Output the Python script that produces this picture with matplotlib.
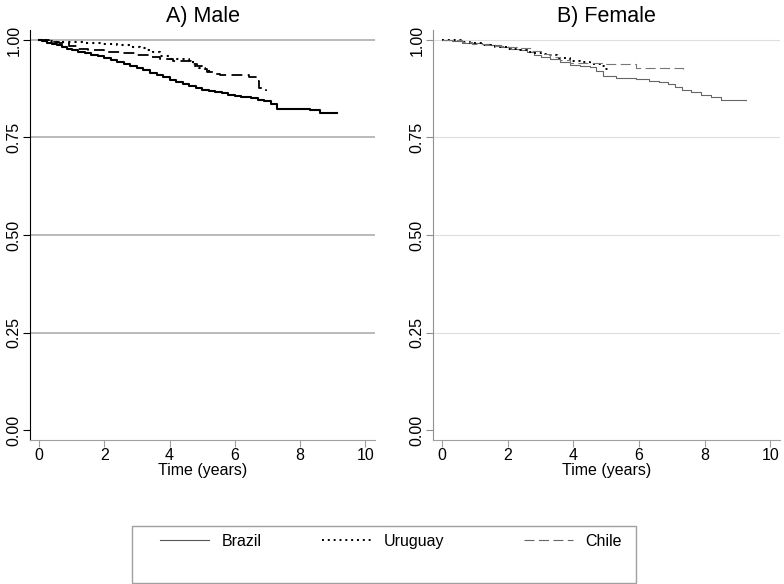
import matplotlib
matplotlib.use('Agg')
import matplotlib.pyplot as plt
from matplotlib.lines import Line2D
from matplotlib.patches import Rectangle

plt.rcParams['font.family'] = ['Liberation Sans', 'DejaVu Sans']

# Kaplan-Meier estimates
male_brazil_t = [0, 0.1, 0.25, 0.4, 0.55, 0.7, 0.85, 1.0, 1.2, 1.4, 1.6, 1.8, 2.0, 2.2, 2.4, 2.6, 2.8, 3.0,
                 3.2, 3.4, 3.6, 3.8, 4.0, 4.2, 4.4, 4.6, 4.8, 5.0, 5.2, 5.4, 5.6, 5.8, 6.0, 6.2, 6.5, 6.7,
                 6.9, 7.1, 7.3, 8.3, 8.6, 9.15]
male_brazil_s = [1.0, 0.997, 0.993, 0.99, 0.986, 0.982, 0.978, 0.974, 0.970, 0.966, 0.962, 0.958, 0.954,
                 0.948, 0.943, 0.938, 0.932, 0.928, 0.922, 0.915, 0.909, 0.904, 0.898, 0.892, 0.887, 0.882,
                 0.877, 0.873, 0.869, 0.866, 0.863, 0.859, 0.857, 0.854, 0.851, 0.847, 0.843, 0.836, 0.824,
                 0.82, 0.814, 0.814]
male_uruguay_t = [0, 0.2, 0.5, 0.9, 1.4, 1.9, 2.4, 2.8, 3.1, 3.3, 3.5, 3.7, 4.0, 4.6, 4.72, 4.9, 5.1, 5.3]
male_uruguay_s = [1.0, 0.998, 0.996, 0.994, 0.992, 0.989, 0.986, 0.983, 0.979, 0.975, 0.968, 0.958, 0.952,
                  0.949, 0.934, 0.928, 0.921, 0.915]
male_chile_t = [0, 0.3, 0.6, 0.9, 1.2, 1.5, 2.0, 2.5, 3.0, 3.4, 3.7, 4.1, 4.65, 4.85, 5.0, 5.15, 5.35, 5.55,
                6.45, 6.7, 6.75, 6.95]
male_chile_s = [1.0, 0.996, 0.991, 0.985, 0.977, 0.973, 0.97, 0.966, 0.962, 0.957, 0.951, 0.945, 0.939,
                0.932, 0.926, 0.919, 0.914, 0.911, 0.906, 0.894, 0.877, 0.868]

female_brazil_t = [0, 0.3, 0.6, 0.9, 1.2, 1.5, 1.8, 2.1, 2.4, 2.6, 2.8, 3.0, 3.3, 3.6, 3.9, 4.2, 4.5, 4.7,
                   4.9, 5.3, 5.9, 6.3, 6.6, 6.9, 7.1, 7.3, 7.6, 7.9, 8.2, 8.5, 9.25]
female_brazil_s = [1.0, 0.997, 0.993, 0.991, 0.989, 0.986, 0.982, 0.978, 0.974, 0.968, 0.962, 0.956, 0.95,
                   0.944, 0.937, 0.934, 0.93, 0.92, 0.908, 0.903, 0.9, 0.895, 0.892, 0.886, 0.879, 0.873,
                   0.867, 0.86, 0.854, 0.847, 0.847]
female_uruguay_t = [0, 0.3, 0.6, 0.85, 1.2, 1.6, 2.0, 2.35, 2.6, 2.8, 3.0, 3.2, 3.5, 3.9, 4.2, 4.5, 4.8,
                    4.95, 5.05]
female_uruguay_s = [1.0, 1.0, 0.995, 0.991, 0.987, 0.983, 0.978, 0.974, 0.97, 0.967, 0.965, 0.962, 0.955,
                    0.947, 0.943, 0.938, 0.932, 0.926, 0.92]
female_chile_t = [0, 0.3, 0.6, 0.9, 1.3, 1.6, 2.0, 2.35, 2.7, 3.0, 3.3, 3.6, 3.9, 4.5, 5.0, 5.9, 7.35]
female_chile_s = [1.0, 1.0, 0.995, 0.99, 0.987, 0.985, 0.982, 0.979, 0.972, 0.965, 0.957, 0.949, 0.942,
                  0.94, 0.939, 0.928, 0.925]

yticks = [0.0, 0.25, 0.5, 0.75, 1.0]
xticks = [0, 2, 4, 6, 8, 10]
FS = 11.5

fig = plt.figure(figsize=(7.84, 5.84), dpi=100)
ax1 = fig.add_axes([0.0383, 0.2466, 0.44, 0.702])
ax2 = fig.add_axes([0.5523, 0.2466, 0.4426, 0.702])


def style(ax, title, gridcol, gridlw, leftcol):
    ax.set_xlim(-0.28, 10.3)
    ax.set_ylim(-0.0255, 1.0255)
    for y in yticks[1:]:
        ax.axhline(y, color=gridcol, lw=gridlw, zorder=0)
    ax.set_xticks(xticks)
    ax.set_yticks(yticks)
    ax.set_yticklabels(['%.2f' % v for v in yticks], rotation=90, va='center')
    ax.spines['top'].set_visible(False)
    ax.spines['right'].set_visible(False)
    ax.spines['left'].set_color(leftcol)
    ax.spines['bottom'].set_color('#a0a0a0')
    ax.tick_params(axis='both', labelsize=FS, length=5, width=0.8)
    ax.tick_params(axis='x', color='#a0a0a0', pad=1)
    ax.tick_params(axis='y', color=leftcol, pad=1)
    ax.set_xlabel('Time (years)', fontsize=FS, labelpad=0)
    ax.set_title(title, fontsize=15.5, pad=6)


style(ax1, 'A) Male', '#b4b4b4', 1.3, 'black')
style(ax2, 'B) Female', '#dedede', 0.8, '#909090')

ax1.step(male_brazil_t, male_brazil_s, where='post', color='black', lw=1.5)
ax1.step(male_uruguay_t, male_uruguay_s, where='post', color='black', lw=1.5, ls=(0, (1, 2)))
ax1.step(male_chile_t, male_chile_s, where='post', color='black', lw=1.3, ls=(0, (6, 3)))

ax2.step(female_brazil_t, female_brazil_s, where='post', color='#666666', lw=0.8)
ax2.step(female_uruguay_t, female_uruguay_s, where='post', color='black', lw=1.4, ls=(0, (1, 2)))
ax2.step(female_chile_t, female_chile_s, where='post', color='#777777', lw=0.8, ls=(0, (9, 4)))

# legend box
fig.add_artist(Rectangle((0.168, 0.002), 0.643, 0.097, transform=fig.transFigure,
                         fill=False, edgecolor='#a0a0a0', lw=1.0))
entries = [
    ('Brazil', dict(color='#555555', lw=0.8), 0.204),
    ('Uruguay', dict(color='black', lw=1.4, ls=(0, (1, 2))), 0.411),
    ('Chile', dict(color='#666666', lw=0.8, ls=(0, (9, 4))), 0.668),
]
for label, kw, x0 in entries:
    fig.legend(handles=[Line2D([], [], **kw)], labels=[label], loc='center left',
               bbox_to_anchor=(x0, 0.0736), frameon=False, fontsize=FS,
               handlelength=3.1, handletextpad=0.75, borderpad=0, borderaxespad=0)

plt.savefig('out.png')
